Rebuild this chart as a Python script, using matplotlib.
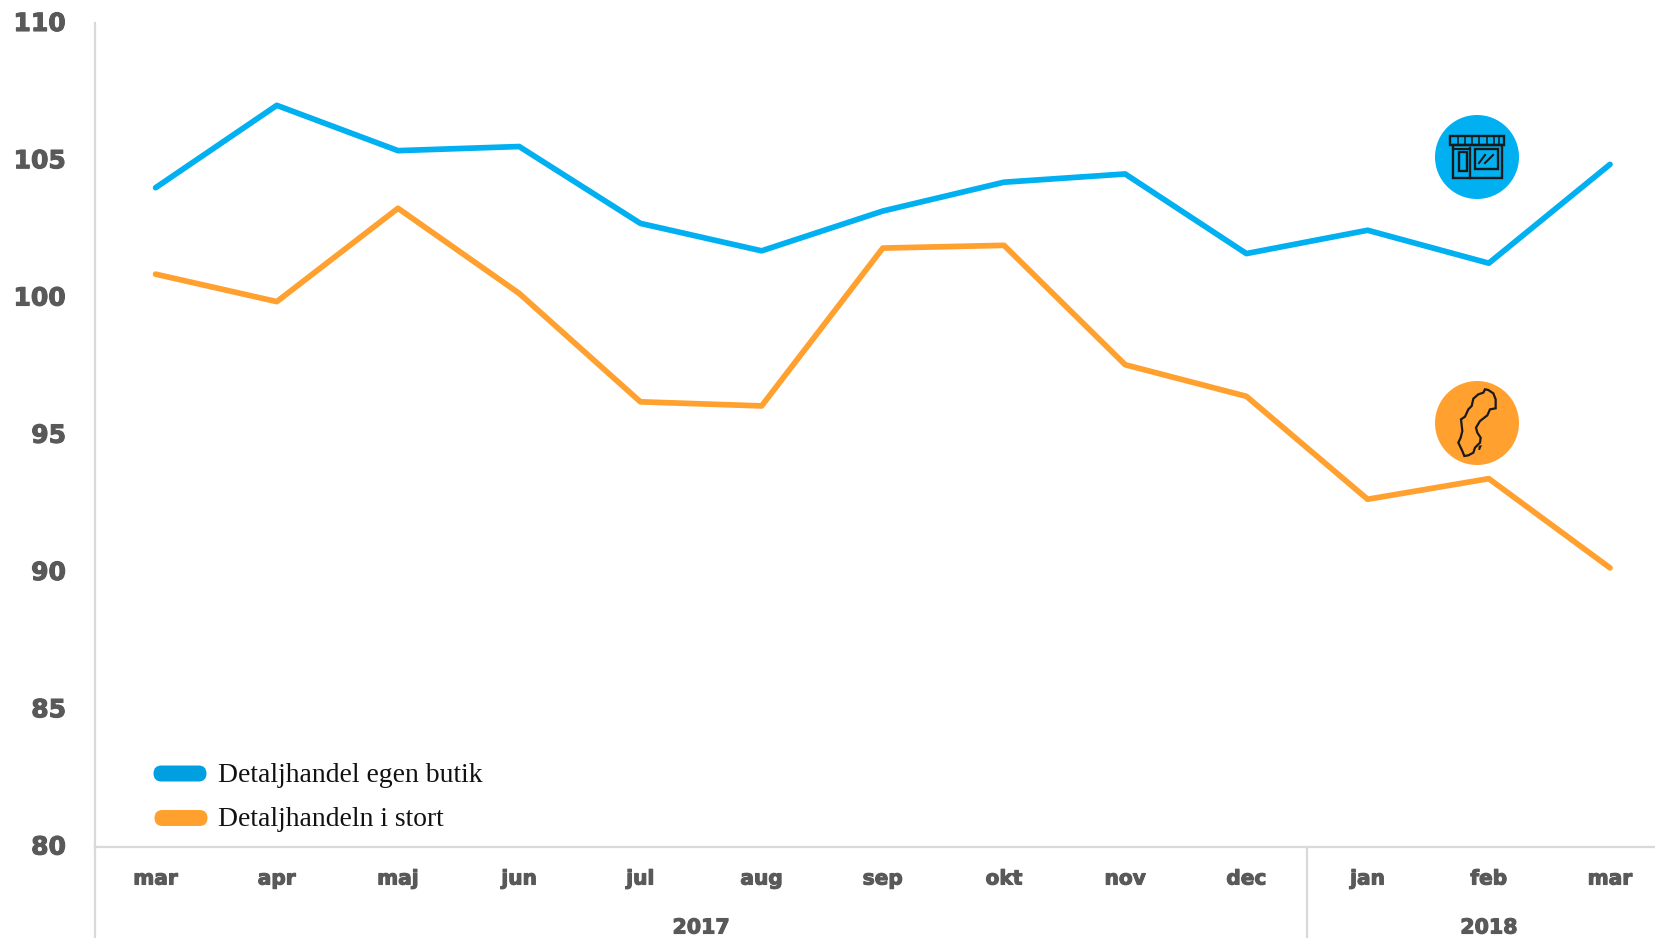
import matplotlib
matplotlib.use("Agg")
import matplotlib.pyplot as plt
import matplotlib.patheffects as pe
from matplotlib.patches import Circle, Rectangle, Polygon, FancyBboxPatch

months = ["mar", "apr", "maj", "jun", "jul", "aug", "sep", "okt", "nov", "dec", "jan", "feb", "mar"]
egen_butik = [104.0, 107.0, 105.35, 105.5, 102.7, 101.7, 103.15, 104.2, 104.5, 101.6, 102.45, 101.25, 104.85]
i_stort = [100.85, 99.85, 103.25, 100.15, 96.2, 96.05, 101.8, 101.9, 97.55, 96.4, 92.65, 93.4, 90.15]
yticks = [80, 85, 90, 95, 100, 105, 110]
series_names = ["Detaljhandel egen butik", "Detaljhandeln i stort"]
years = ["2017", "2018"]

W, H = 1655, 938
BLUE, ORANGE, GRAY, AX = "#00B0F0", "#FFA02F", "#595959", "#D9D9D9"
fig = plt.figure(figsize=(W/100, H/100), dpi=100)
L, B, T = 95, 846.5, 23
STEP = 121.2
ax = fig.add_axes([L/W, 1-B/H, (W-L)/W, (B-T)/H])
ax.set_xlim(-0.5, (W-L)/STEP-0.5)
ax.set_ylim(80, 110)
x = list(range(len(months)))
ax.plot(x, egen_butik, color=BLUE, lw=4.1, solid_capstyle="round", solid_joinstyle="round")
ax.plot(x, i_stort, color=ORANGE, lw=4.1, solid_capstyle="round", solid_joinstyle="round")
for s in ["top", "right"]:
    ax.spines[s].set_visible(False)
for s in ["left", "bottom"]:
    ax.spines[s].set_color(AX)
    ax.spines[s].set_linewidth(1.6)
ax.set_xticks([])
ax.set_yticks(yticks)
ax.tick_params(axis="y", length=0, pad=0)
ax.set_yticklabels([])

font = dict(family="DejaVu Sans", fontweight="bold", color=GRAY)
heavy = [pe.withStroke(linewidth=0.8, foreground=GRAY)]
for v in yticks:
    fig.text(66/W, 1-(B-1.5-(v-80)*(B-T)/30)/H, str(v), ha="right", va="center_baseline", fontsize=18,
             path_effects=heavy, **font)
for i, m in enumerate(months):
    ax.annotate(m, (i, 0), xycoords=("data", "axes fraction"), xytext=(0, -38*0.72), textcoords="offset points",
                ha="center", va="baseline", fontsize=14.5, annotation_clip=False, path_effects=heavy, **font)
for xc, y in [(4.5, years[0]), (11, years[1])]:
    ax.annotate(y, (xc, 0), xycoords=("data", "axes fraction"), xytext=(0, -87*0.72), textcoords="offset points",
                ha="center", va="baseline", fontsize=14.8, annotation_clip=False, path_effects=heavy, **font)

# axis extensions below the baseline
for xv in [-0.5, 9.5]:
    ax.plot([xv, xv], [0, -(H-B)/(B-T)], transform=ax.get_xaxis_transform(), color=AX, lw=1.6, clip_on=False)

# legend
ov = fig.add_axes([0, 0, 1, 1])
ov.set_xlim(0, W); ov.set_ylim(H, 0); ov.axis("off"); ov.patch.set_alpha(0)
for yc, xs, c, name, dy in [(773.5, 153.5, "#00A0E0", series_names[0], 8), (818, 154.5, ORANGE, series_names[1], 8)]:
    ov.add_patch(FancyBboxPatch((xs, yc-8), 53, 16, boxstyle="round,pad=0,rounding_size=8", fc=c, ec="none"))
    ov.text(xs+64, yc+dy, name, fontsize=19.9, family="Liberation Serif", color="#111111", ha="left", va="baseline")

# icons
k = "#1A1A1A"
ov.add_patch(Circle((1477, 157), 42, fc=BLUE, ec="none"))
ov.add_patch(Circle((1477, 423), 42, fc=ORANGE, ec="none"))
ov.add_patch(Rectangle((1450, 136), 54, 9.5, fc="none", ec=k, lw=1.7))
for xi in [1457.7, 1465, 1472, 1479, 1486.5, 1494, 1499]:
    ov.plot([xi, xi], [136, 145.5], color=k, lw=1.1)
ov.add_patch(Rectangle((1453, 145.5), 49, 33, fc="none", ec=k, lw=1.7))
ov.plot([1470, 1470], [148, 178.5], color=k, lw=1.7)
ov.plot([1453, 1470], [149, 149], color=k, lw=1.5)
ov.add_patch(Rectangle((1459, 152), 8, 19, fc="none", ec=k, lw=1.7))
ov.add_patch(Rectangle((1474.5, 149.5), 23.5, 19.5, fc="none", ec=k, lw=1.7))
ov.plot([1479, 1485], [163, 155], color=k, lw=1.5)
ov.plot([1485, 1493], [163, 155], color=k, lw=1.5)
sweden_px = [(165,40),(175,42),(190,52),(197,70),(197,97),(180,100),(172,118),(150,135),(138,155),(142,170),
             (152,185),(150,200),(135,215),(130,230),(115,238),(103,240),(97,225),(85,200),(92,185),(97,165),
             (93,130),(105,122),(115,100),(125,90),(130,68),(145,55),(160,50)]
gotland_px = [(146,210),(156,207),(150,222),(145,222)]
conv = lambda pts: [(1430+a/3, 376+b/3) for a, b in pts]
ov.add_patch(Polygon(conv(sweden_px), closed=True, fc="none", ec=k, lw=1.6))
ov.add_patch(Polygon(conv(gotland_px), closed=True, fc=k, ec="none"))

fig.savefig("out.png", dpi=100, facecolor="white")
